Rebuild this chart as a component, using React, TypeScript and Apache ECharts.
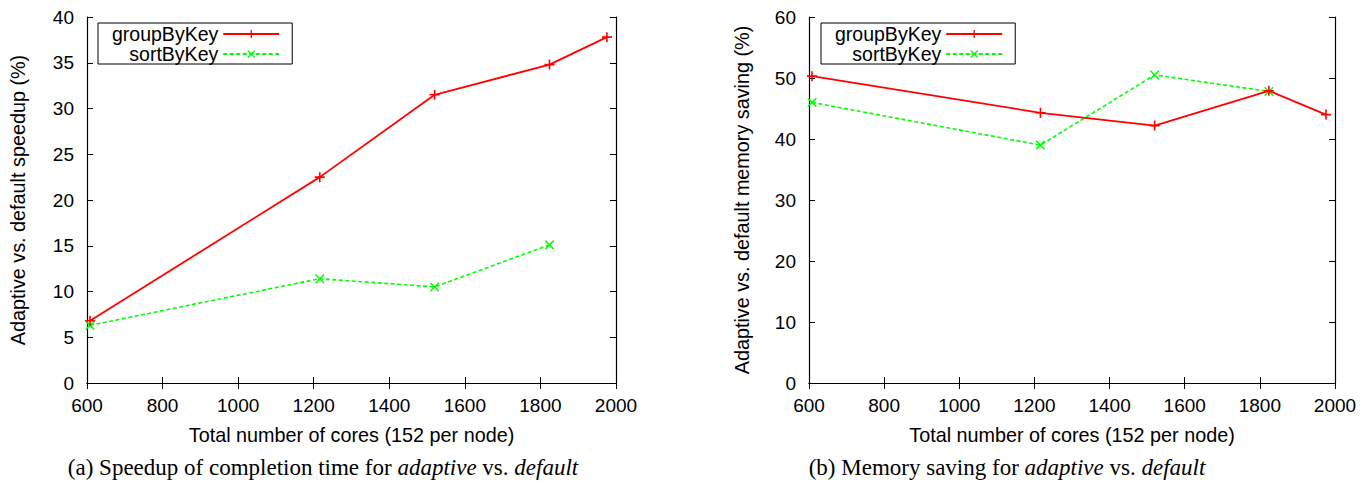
import React, { useEffect, useRef } from "react";
import * as echarts from "echarts";

const coresGroup = [608, 1216, 1520, 1824, 1976];
const coresSort = [608, 1216, 1520, 1824];
const speedupGroup = [6.8, 22.5, 31.5, 34.8, 37.8];
const speedupSort = [6.3, 11.4, 10.5, 15.1];
const memoryGroup = [50.3, 44.3, 42.2, 47.9, 44.0];
const memorySort = [46.0, 39.0, 50.5, 47.8];

const seriesNames = ["groupByKey", "sortByKey"];
const xTitle = "Total number of cores (152 per node)";
const yTitleLeft = "Adaptive vs. default speedup (%)";
const yTitleRight = "Adaptive vs. default memory saving (%)";

const PLUS = "path://M4.2,0H5.8V4.2H10V5.8H5.8V10H4.2V5.8H0V4.2H4.2Z";
const CROSS = "path://M0,1.1L1.1,0L5,3.9L8.9,0L10,1.1L6.1,5L10,8.9L8.9,10L5,6.1L1.1,10L0,8.9L3.9,5Z";

const SANS = "Liberation Sans";
const SERIF = "Liberation Serif";

function zip(xs: number[], ys: number[]) {
  return xs.map((x, i) => [x, ys[i]]);
}

export default function App() {
  const ref = useRef<HTMLDivElement>(null);
  useEffect(() => {
    document.body.style.margin = "0";
    const chart = echarts.init(ref.current!, null, { renderer: "svg" });
    const axisLine = { show: true, lineStyle: { color: "#000", width: 1.2 } };
    const tickIn = { show: true, inside: true, length: 6, lineStyle: { color: "#000", width: 1 } };
    const labelStyle = { color: "#000", fontFamily: SANS, fontSize: 19 };
    const titleStyle = { color: "#000", fontFamily: SANS, fontSize: 19.8 };
    const plain = (v: number) => String(v);
    const xBase = (gridIndex: number, position: string, showLabel: boolean) => ({
      type: "value",
      gridIndex,
      position,
      min: 600,
      max: 2000,
      interval: 200,
      axisLine,
      axisTick: tickIn,
      splitLine: { show: false },
      axisLabel: { show: showLabel, margin: 13, formatter: plain, ...labelStyle },
      ...(showLabel
        ? {
            name: xTitle,
            nameLocation: "middle",
            nameGap: 42,
            nameTextStyle: { ...titleStyle },
          }
        : {}),
    });
    const yBase = (gridIndex: number, position: string, max: number, interval: number, title: string | null, nameGap: number) => ({
      type: "value",
      gridIndex,
      position,
      min: 0,
      max,
      interval,
      axisLine,
      axisTick: tickIn,
      splitLine: { show: false },
      axisLabel: { show: !!title, margin: 13, formatter: plain, ...labelStyle },
      ...(title
        ? {
            name: title,
            nameLocation: "middle",
            nameGap,
            nameTextStyle: { ...titleStyle },
          }
        : {}),
    });
    const red = "#ff0000";
    const green = "#00ff00";
    const mkSeries = (name: string, data: number[][], xi: number, yi: number) => {
      const isGroup = name === seriesNames[0];
      const color = isGroup ? red : green;
      return {
        type: "line",
        name,
        xAxisIndex: xi,
        yAxisIndex: yi,
        data,
        symbol: isGroup ? PLUS : CROSS,
        symbolSize: isGroup ? 10 : 9.5,
        showSymbol: true,
        itemStyle: { color, borderWidth: 0 },
        lineStyle: { color, width: isGroup ? 1.8 : 1.6, type: isGroup ? "solid" : [4, 2.5] },
        z: isGroup ? 3 : 2,
      };
    };
    const legendBase = (left: number) => ({
      show: true,
      orient: "vertical",
      align: "right",
      left,
      top: 23,
      data: seriesNames,
      itemWidth: 56,
      itemHeight: 10,
      itemGap: 0,
      padding: [1, 12, 0, 14],
      borderColor: "#000",
      borderWidth: 1,
      backgroundColor: "#fff",
      selectedMode: false,
      textStyle: { color: "#000", fontFamily: SANS, fontSize: 19.5, lineHeight: 19 },
    });
    const captionRich = { i: { fontStyle: "italic", fontFamily: SERIF, fontSize: 23, fill: "#000" } };
    chart.setOption({
      animation: false,
      backgroundColor: "#fff",
      grid: [
        { left: 87, top: 17, width: 529, height: 366, show: false },
        { left: 809, top: 17, width: 526, height: 366, show: false },
      ],
      xAxis: [xBase(0, "bottom", true), xBase(0, "top", false), xBase(1, "bottom", true), xBase(1, "top", false)],
      yAxis: [
        yBase(0, "left", 40, 5, yTitleLeft, 59),
        yBase(0, "right", 40, 5, null, 0),
        yBase(1, "left", 60, 10, yTitleRight, 57),
        yBase(1, "right", 60, 10, null, 0),
      ],
      legend: [legendBase(98), legendBase(821)],
      series: [
        mkSeries(seriesNames[0], zip(coresGroup, speedupGroup), 0, 0),
        mkSeries(seriesNames[1], zip(coresSort, speedupSort), 0, 0),
        mkSeries(seriesNames[0], zip(coresGroup, memoryGroup), 2, 2),
        mkSeries(seriesNames[1], zip(coresSort, memorySort), 2, 2),
      ],
      graphic: [
        {
          type: "text",
          x: 323,
          y: 467,
          style: {
            text: "(a) Speedup of completion time for {i|adaptive} vs. {i|default}",
            fill: "#000",
            font: `23px "${SERIF}"`,
            align: "center",
            verticalAlign: "middle",
            rich: captionRich,
          },
        },
        {
          type: "text",
          x: 1007,
          y: 467,
          style: {
            text: "(b) Memory saving for {i|adaptive} vs. {i|default}",
            fill: "#000",
            font: `23px "${SERIF}"`,
            align: "center",
            verticalAlign: "middle",
            rich: captionRich,
          },
        },
      ],
    });
    return () => chart.dispose();
  }, []);
  return <div ref={ref} style={{ width: 1372, height: 483 }} />;
}
